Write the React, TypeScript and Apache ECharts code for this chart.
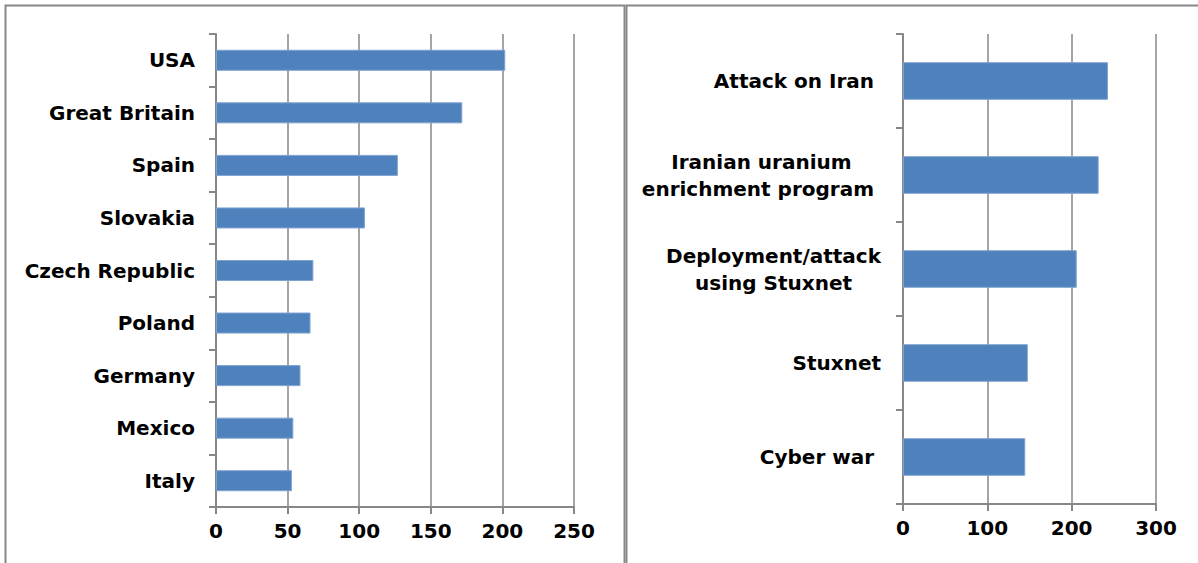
import React, { useEffect, useRef } from "react";
import * as echarts from "echarts";

const leftCategories = ["USA", "Great Britain", "Spain", "Slovakia", "Czech Republic", "Poland", "Germany", "Mexico", "Italy"];
const leftValues = [202, 172, 127, 104, 68, 66, 59, 54, 53];
const leftTicks = { min: 0, max: 250, interval: 50 };

const rightCategories = ["Attack on Iran ", "Iranian uranium\nenrichment program ", "Deployment/attack\nusing Stuxnet", "Stuxnet", "Cyber war "];
const rightValues = [243, 232, 206, 148, 145];
const rightTicks = { min: 0, max: 300, interval: 100 };

const GRAY = "#878787";
const BAR = "#4f81bd";
const FONT = "DejaVu Sans";

export default function App() {
  const ref = useRef<HTMLDivElement>(null);
  useEffect(() => {
    const chart = echarts.init(ref.current!, undefined, { renderer: "svg" });
    const valueAxis = (idx: number, t: { min: number; max: number; interval: number }) => ({
      type: "value",
      gridIndex: idx,
      min: t.min,
      max: t.max,
      interval: t.interval,
      axisLine: { show: true, lineStyle: { color: GRAY, width: 2 } },
      axisTick: { show: true, length: 7, lineStyle: { color: GRAY, width: 2 } },
      splitLine: { show: true, lineStyle: { color: GRAY, width: 1.5 } },
      axisLabel: { color: "#000", fontFamily: FONT, fontWeight: "bold", fontSize: 20, margin: 14 },
    });
    const catAxis = (idx: number, data: string[], extra: any) => ({
      type: "category",
      gridIndex: idx,
      data,
      inverse: true,
      axisLine: { show: true, lineStyle: { color: GRAY, width: 2 } },
      axisTick: { show: true, length: 7, lineStyle: { color: GRAY, width: 2 } },
      axisLabel: { color: "#000", fontFamily: FONT, fontWeight: "bold", fontSize: 20, ...extra },
    });
    chart.setOption({
      animation: false,
      backgroundColor: "#fff",
      graphic: [
        { type: "rect", shape: { x: 5.5, y: 5.5, width: 619, height: 600 }, style: { fill: "none", stroke: GRAY, lineWidth: 2 } },
        { type: "rect", shape: { x: 626.5, y: 5.5, width: 600, height: 600 }, style: { fill: "none", stroke: GRAY, lineWidth: 2 } },
      ],
      grid: [
        { left: 216, top: 34, width: 358, height: 473 },
        { left: 903, top: 34, width: 253, height: 470 },
      ],
      xAxis: [valueAxis(0, leftTicks), valueAxis(1, rightTicks)],
      yAxis: [
        catAxis(0, leftCategories, { margin: 21 }),
        catAxis(1, rightCategories, {
          margin: 22,
          lineHeight: 27,
          formatter: (v: string) => v.split("\n").map((s) => `{c|${s}}`).join("\n"),
          rich: { c: { align: "center", fontFamily: FONT, fontWeight: "bold", fontSize: 20, lineHeight: 27, color: "#000" } },
        }),
      ],
      series: [
        {
          type: "bar", xAxisIndex: 0, yAxisIndex: 0, data: leftValues, barCategoryGap: "60%",
          itemStyle: { color: BAR, borderColor: "#7fa3d0", borderWidth: 1 },
        },
        {
          type: "bar", xAxisIndex: 1, yAxisIndex: 1, data: rightValues, barCategoryGap: "60%",
          itemStyle: { color: BAR, borderColor: "#7fa3d0", borderWidth: 1 },
        },
      ],
    });
    return () => chart.dispose();
  }, []);
  return <div ref={ref} style={{ position: "fixed", left: 0, top: 0, width: 1198, height: 563 }} />;
}
